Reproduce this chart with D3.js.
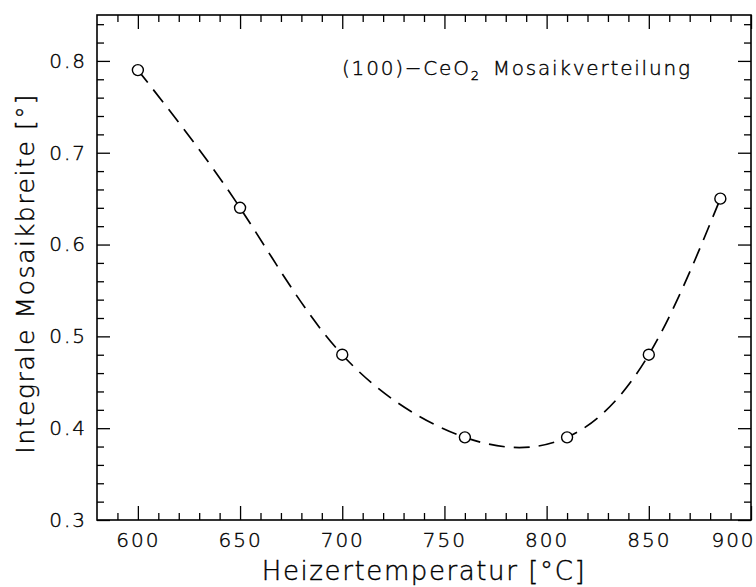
<!DOCTYPE html>
<html>
<head>
<meta charset="utf-8">
<script src="https://cdn.jsdelivr.net/npm/d3@7"></script>
<style>
  body { margin: 0; background: #fff; }
  svg text { font-family: "DejaVu Sans", sans-serif; font-weight: 200; fill: #000;
             stroke: #000; stroke-width: 0.4px; }
</style>
</head>
<body>
<div id="chart"></div>
<script>
/* Measured points: heater temperature vs integral mosaic width */
const temps = [600, 650, 700, 760, 810, 850, 885];
const widths = [0.79, 0.64, 0.48, 0.39, 0.39, 0.48, 0.65];

/* Tick values */
const xMajor = [600, 650, 700, 750, 800, 850, 900];
const xMinor = [590, 610, 620, 630, 640, 660, 670, 680, 690, 710, 720, 730, 740,
                760, 770, 780, 790, 810, 820, 830, 840, 860, 870, 880, 890];
const yMajor = [0.3, 0.4, 0.5, 0.6, 0.7, 0.8];
const yMinor = [0.32, 0.34, 0.36, 0.38, 0.42, 0.44, 0.46, 0.48, 0.52, 0.54, 0.56, 0.58,
                0.62, 0.64, 0.66, 0.68, 0.72, 0.74, 0.76, 0.78, 0.82, 0.84];

const width = 756, height = 587;
const margins = { top: 15, right: 5, bottom: 67, left: 97 };

const svg = d3.select("#chart")
  .append("svg")
  .attr("width", width)
  .attr("height", height);

/* Scales */
const x = d3.scaleLinear()
  .domain([580, 900])
  .range([margins.left, width - margins.right]);

const y = d3.scaleLinear()
  .domain([0.3, 0.85])
  .range([height - margins.bottom, margins.top]);

const x0 = x.range()[0], x1 = x.range()[1];
const y0 = y.range()[0], y1 = y.range()[1];

/* Axes, all ticks pointing inward */
const addAxis = (axis, tx, ty) => {
  const g = svg.append("g")
    .attr("transform", `translate(${tx},${ty})`)
    .call(axis);
  g.select(".domain").remove();
  g.selectAll("line").attr("stroke", "#000").attr("stroke-width", 1.3);
  return g;
};

/* bottom */
const xb = addAxis(d3.axisBottom(x).tickValues(xMajor).tickSize(-14).tickPadding(13)
  .tickFormat(d3.format("d")), 0, y0);
xb.selectAll("text").attr("font-size", "20px").style("letter-spacing", "2px");
xb.selectAll(".tick").filter(d => d === 900).select("text").attr("dx", -18);
addAxis(d3.axisBottom(x).tickValues(xMinor).tickSize(-7).tickFormat(""), 0, y0);

/* top */
addAxis(d3.axisTop(x).tickValues(xMajor).tickSize(-14).tickFormat(""), 0, y1);
addAxis(d3.axisTop(x).tickValues(xMinor).tickSize(-7).tickFormat(""), 0, y1);

/* left */
const yl = addAxis(d3.axisLeft(y).tickValues(yMajor).tickSize(-13).tickPadding(10)
  .tickFormat(d3.format(".1f")), x0, 0);
yl.selectAll("text").attr("font-size", "20px").style("letter-spacing", "2px");
addAxis(d3.axisLeft(y).tickValues(yMinor).tickSize(-7).tickFormat(""), x0, 0);

/* right */
addAxis(d3.axisRight(y).tickValues(yMajor).tickSize(-13).tickFormat(""), x1, 0);
addAxis(d3.axisRight(y).tickValues(yMinor).tickSize(-7).tickFormat(""), x1, 0);

/* Frame */
svg.append("rect")
  .attr("x", x0)
  .attr("y", y1)
  .attr("width", x1 - x0)
  .attr("height", y0 - y1)
  .attr("fill", "none")
  .attr("stroke", "#000")
  .attr("stroke-width", 1.6);

/* Dashed smooth curve through the points */
const points = temps.map((t, i) => [t, widths[i]]);
const line = d3.line()
  .x(d => x(d[0]))
  .y(d => y(d[1]))
  .curve(d3.curveNatural);

svg.append("path")
  .datum(points)
  .attr("d", line)
  .attr("fill", "none")
  .attr("stroke", "#000")
  .attr("stroke-width", 1.7)
  .attr("stroke-dasharray", "16,9");

/* Markers */
svg.append("g")
  .selectAll("circle")
  .data(points)
  .join("circle")
    .attr("cx", d => x(d[0]))
    .attr("cy", d => y(d[1]))
    .attr("r", 5.5)
    .attr("fill", "#fff")
    .attr("stroke", "#000")
    .attr("stroke-width", 1.4);

/* Annotation */
const note = svg.append("text")
  .attr("x", 342)
  .attr("y", 75)
  .attr("font-size", "20px")
  .style("letter-spacing", "1.8px");
note.append("tspan").text("(100)\u2212CeO");
note.append("tspan").attr("font-size", "13px").attr("dy", 5).text("2");
note.append("tspan").attr("dy", -5).text("\u2002Mosaikverteilung");

/* Axis titles */
svg.append("text")
  .attr("x", (x0 + x1) / 2)
  .attr("y", 580)
  .attr("text-anchor", "middle")
  .attr("font-size", "26px")
  .style("letter-spacing", "1.6px")
  .text("Heizertemperatur  [°C]");

svg.append("text")
  .attr("transform", "rotate(-90)")
  .attr("x", -(y0 + y1) / 2 - 6)
  .attr("y", 34)
  .attr("text-anchor", "middle")
  .attr("font-size", "25px")
  .style("letter-spacing", "1.6px")
  .text("Integrale  Mosaikbreite  [°]");
</script>
</body>
</html>
